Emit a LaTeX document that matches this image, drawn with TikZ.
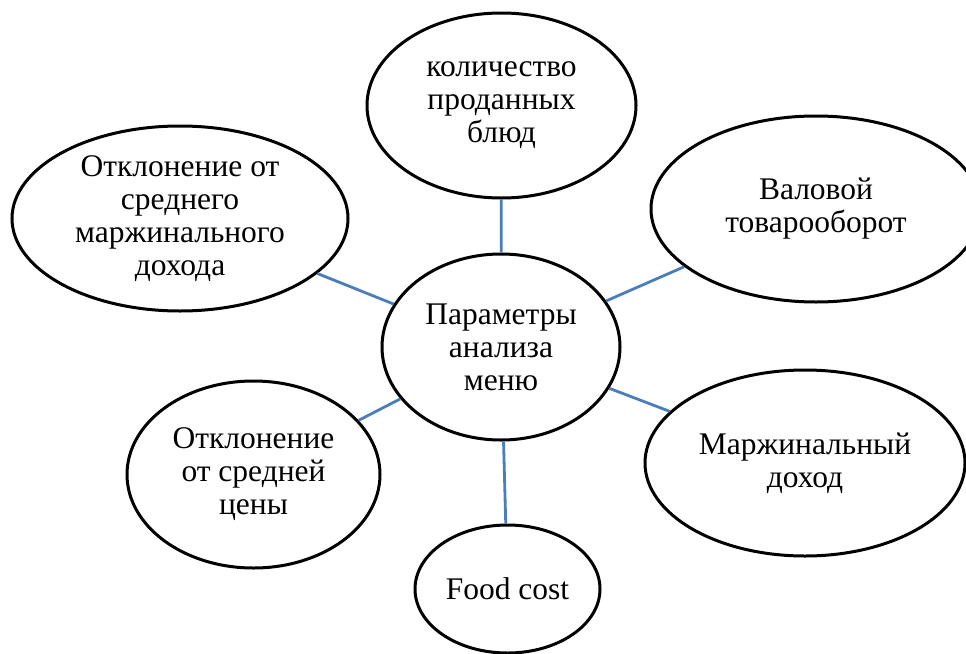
\documentclass[tikz,border=0pt]{standalone}
\usepackage{fontspec}
\setmainfont{Liberation Serif}
\usetikzlibrary{shapes.geometric}
\definecolor{linkblue}{RGB}{74,126,187}
\begin{document}
\begin{tikzpicture}[x=1pt,y=-1pt,
  oval/.style={ellipse, draw=black, line width=3pt, fill=white, inner sep=0pt,
    align=center, font=\fontsize{31.5}{33}\selectfont},
  link/.style={draw=linkblue, line width=2.8pt}]
\useasboundingbox (0,0) rectangle (966,653);
\clip (0,0) rectangle (966,653);
\node[oval, minimum width=238pt, minimum height=186pt] (c) at (501,347) {Параметры\\анализа\\меню};
\node[oval, minimum width=269pt, minimum height=185pt] (t) at (501.5,105.5) {количество\\проданных\\блюд};
\node[oval, minimum width=336pt, minimum height=185pt] (tl) at (180,218.5) {Отклонение от\\среднего\\маржинального\\дохода};
\node[oval, minimum width=330pt, minimum height=186pt] (tr) at (816,209) {Валовой\\товарооборот};
\node[oval, minimum width=320pt, minimum height=186pt] (br) at (805,463) {Маржинальный\\доход};
\node[oval, minimum width=253pt, minimum height=187pt] (bl) at (253.5,474.5) {Отклонение\\от средней\\цены};
\node[oval, minimum width=185pt, minimum height=128pt] (b) at (507.5,589) {Food cost};
\draw[link] (c) -- (t);
\draw[link] (c) -- (tl);
\draw[link] (c) -- (tr);
\draw[link] (c) -- (br);
\draw[link] (c) -- (bl);
\draw[link] (c) -- (b);
\end{tikzpicture}
\end{document}
